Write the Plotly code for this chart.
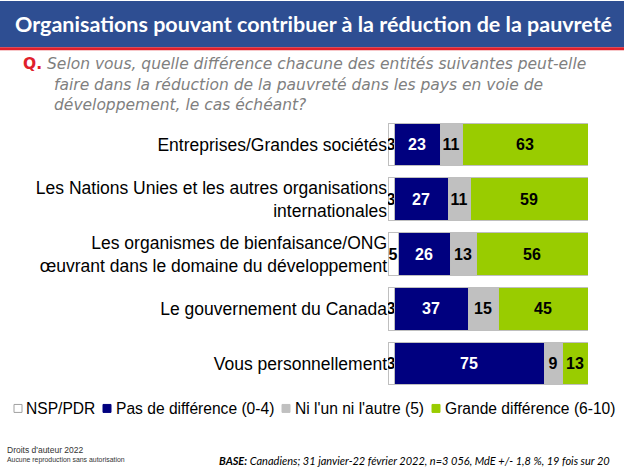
import plotly.graph_objects as go

categories = [
    "Entreprises/Grandes sociétés",
    "Les Nations Unies et les autres organisations<br>internationales",
    "Les organismes de bienfaisance/ONG<br>œuvrant dans le domaine du développement",
    "Le gouvernement du Canada",
    "Vous personnellement",
]
nsp = [3, 3, 5, 3, 3]
pas_diff = [23, 27, 26, 37, 75]
ni_lun = [11, 11, 13, 15, 9]
grande = [63, 59, 56, 45, 13]

series_names = ["NSP/PDR", "Pas de différence (0-4)", "Ni l'un ni l'autre (5)", "Grande différence (6-10)"]
series_values = [nsp, pas_diff, ni_lun, grande]
series_colors = ["#FFFFFF", "#00007F", "#C0C0C0", "#99CC00"]
text_colors = ["#000000", "#FFFFFF", "#000000", "#000000"]

W, H = 624, 468
PL, PR, PT, PB = 388, 588, 116.5, 391.5  # plot area in pixels

fig = go.Figure()
for name, vals, color, tcolor in zip(series_names, series_values, series_colors, text_colors):
    fig.add_trace(go.Bar(
        y=categories, x=vals, name=name, orientation="h",
        marker=dict(color=color, line=dict(color="#BFBFBF", width=1)),
        text=[str(v) for v in vals], textposition="inside",
        insidetextanchor="middle", textangle=0,
        textfont=dict(family="Liberation Sans, Arial", size=16, color=tcolor),
        texttemplate="<b>%{text}</b>",
        width=0.78, showlegend=False,
    ))

fig.update_layout(
    width=W, height=H, barmode="stack",
    paper_bgcolor="white", plot_bgcolor="white",
    margin=dict(l=PL, r=W - PR, t=PT, b=H - PB, autoexpand=False),
    uniformtext=dict(minsize=16, mode="show"),
    xaxis=dict(range=[0, 100], visible=False, fixedrange=True),
    yaxis=dict(autorange="reversed", showgrid=False, showline=False, ticks="",
               tickfont=dict(family="Liberation Sans, Arial", size=17.5, color="#000000"),
               ticklabelstandoff=0),
    showlegend=False,
    font=dict(family="Liberation Sans, Arial"),
)


def fx(x):
    return (x - PL) / (PR - PL)


def fy(y):
    return (PB - y) / (PB - PT)


# title bar and red rule
fig.add_shape(type="rect", xref="paper", yref="paper", x0=fx(0), x1=fx(W), y0=fy(0), y1=fy(46.5),
              fillcolor="#2E4E92", line=dict(width=0), layer="above")
fig.add_shape(type="rect", xref="paper", yref="paper", x0=fx(0), x1=fx(W), y0=fy(46.5), y1=fy(49.5),
              fillcolor="#E0202B", line=dict(width=0), layer="above")

# manual legend squares
sq_x = [18, 107, 286, 436]
txt_x = [24, 114, 293, 443]
LY = 409
for sx, col in zip(sq_x, series_colors):
    fig.add_shape(type="rect", xref="paper", yref="paper",
                  x0=fx(sx - 4), x1=fx(sx + 4), y0=fy(LY - 4), y1=fy(LY + 4),
                  fillcolor=col, line=dict(color="#A0A0A0" if col == "#FFFFFF" else col, width=1))

annos = [
    dict(x=313, y=23, text="<b>Organisations pouvant contribuer à la réduction de la pauvreté</b>",
         font=dict(family="Lato, Open Sans", size=21.5, color="white"), xanchor="center"),
    dict(x=21, y=63, text="<b>Q.</b>", font=dict(family="DejaVu Sans", size=15.5, color="#E0202B"),
         xanchor="left"),
    dict(x=45, y=63, text="<i>Selon vous, quelle différence chacune des entités suivantes peut-elle</i>",
         font=dict(family="DejaVu Sans", size=15.5, color="#7F7F7F"), xanchor="left"),
    dict(x=52, y=84, text="<i>faire dans la réduction de la pauvreté dans les pays en voie de</i>",
         font=dict(family="DejaVu Sans", size=15.5, color="#7F7F7F"), xanchor="left"),
    dict(x=52, y=104, text="<i>développement, le cas échéant?</i>",
         font=dict(family="DejaVu Sans", size=15.5, color="#7F7F7F"), xanchor="left"),
    dict(x=5, y=451, text="Droits d'auteur 2022",
         font=dict(family="Liberation Sans", size=8.5, color="#333333"), xanchor="left"),
    dict(x=5, y=461, text="Aucune reproduction sans autorisation",
         font=dict(family="Liberation Sans", size=6.9, color="#333333"), xanchor="left"),
    dict(x=612, y=461,
         text="<i><b>BASE:</b> Canadiens; 31 janvier-22 février 2022, n=3 056, MdE +/- 1,8 %, 19 fois sur 20</i>",
         font=dict(family="Lato", size=11, color="#000000"), xanchor="right"),
]
for tx, name in zip(txt_x, series_names):
    annos.append(dict(x=tx, y=LY, text=name, xanchor="left",
                      font=dict(family="Liberation Sans, Arial", size=15.6, color="#000000")))

for a in annos:
    a["x"] = fx(a["x"])
    a["y"] = fy(a["y"])
    fig.add_annotation(xref="paper", yref="paper", showarrow=False, yanchor="middle", **a)

fig.write_html(
    "out.html",
    config={"displayModeBar": False, "staticPlot": True},
    post_script="document.body.style.margin='0';document.body.style.padding='0';"
                "document.body.style.overflow='hidden';",
)
